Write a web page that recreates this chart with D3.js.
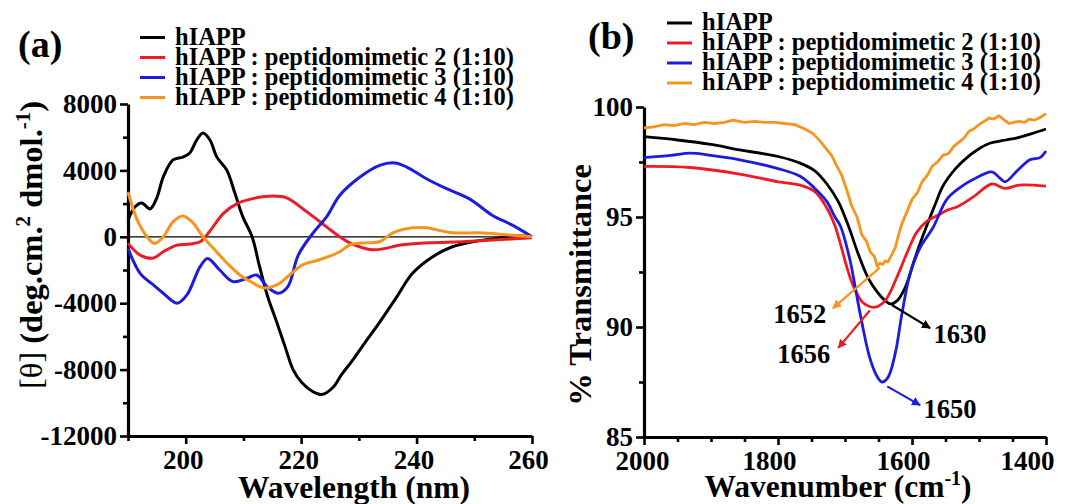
<!DOCTYPE html>
<html><head><meta charset="utf-8">
<script src="https://cdn.jsdelivr.net/npm/d3@7"></script>
<style>
body{margin:0;background:#fff}
text{font-family:"Liberation Serif","Times New Roman",serif;font-weight:bold;fill:#000}
</style></head><body>
<svg id="c" width="1065" height="504"></svg>
<script>
// ---------- DATA ----------
const seriesNames = ["hIAPP","hIAPP : peptidomimetic 2 (1:10)","hIAPP : peptidomimetic 3 (1:10)","hIAPP : peptidomimetic 4 (1:10)"];
const seriesColors = ["#000000","#ed1c24","#1c1ce0","#f7941d"];

// (a) CD spectra: wavelength (nm) vs [theta]
const cdBlackX = [190,191.2,192.4,193.8,195,196.1,197.8,199.5,200.7,201.9,203,204.2,205.4,207.1,208.5,209.9,211.5,212.8,214.2,215.8,217.2,218.6,220.1,222,223.6,225.5,227,229,231,233.1,236.6,239.3,242.8,246.2,249.7,254.3,257,260];
const cdBlackY = [1000,1800,2040,1680,2350,3600,4630,4800,5050,5830,6250,5830,4800,4030,2650,1200,0,-1800,-3600,-5170,-6600,-8000,-8780,-9320,-9500,-9080,-8300,-7400,-6400,-5400,-3600,-2200,-1200,-600,-300,-80,60,0];
const cdRedX = [190,192.1,194.4,196.1,198.5,200.7,202.5,204.2,206.5,208.9,211.6,215.1,217.5,221,224.4,226.7,228.4,232.4,237.6,242.2,247.9,253.8,260];
const cdRedY = [-380,-1100,-1280,-900,-500,-440,-300,350,1400,2000,2300,2460,2350,1500,600,0,-360,-780,-480,-360,-300,-180,-60];
const cdBlueX = [190,192.1,194.4,196.1,198.5,200.2,202.5,203.8,205.9,208.2,210.6,212.3,214.1,216,217.7,219.5,222,224.4,226.7,230.2,233.6,236.2,238.3,241.7,245.2,249.1,253.1,256.6,260];
const cdBlueY = [-700,-2200,-2900,-3400,-4000,-3500,-1800,-1300,-2000,-2700,-2500,-2300,-3000,-3400,-3000,-1100,200,1200,2500,3600,4300,4450,4200,3500,2900,2300,1300,700,0];
const cdOrangeX = [190,191.6,193.3,194.6,196.1,197.8,199.5,201.1,203,204.7,207.1,209.4,211.6,213.4,215.8,218,220.3,223.2,226.7,228.5,231.4,233.6,235.9,239.3,241.7,246.2,250.9,255.5,260];
const cdOrangeY = [2700,1020,0,-400,0,900,1260,900,0,-660,-1560,-2300,-2770,-3070,-2900,-2300,-1680,-1380,-900,-480,-360,-300,240,540,540,240,240,120,0];

// (b) FTIR spectra: wavenumber (cm-1) vs % transmittance
const irBlackX = [2000,1950,1900,1857,1800,1767,1745,1727,1710,1695,1680,1665,1652,1640,1632,1622,1610,1598,1588,1578,1565,1554,1535,1518,1500,1484,1460,1443,1420,1400];
const irBlackY = [98.65,98.5,98.3,98.05,97.75,97.45,97.1,96.5,95.7,94.6,93.3,92.2,91.6,91.2,91.05,91.2,91.8,92.9,93.8,94.6,95.6,96.4,97.2,97.7,98.1,98.35,98.5,98.6,98.8,99.0];
const irRedX = [2000,1931,1857,1800,1767,1745,1727,1715,1707,1698,1688,1673,1655,1640,1622,1607,1593,1578,1560,1548,1530,1509,1481,1461,1440,1400];
const irRedY = [97.3,97.25,96.95,96.6,96.45,96.15,95.4,94.6,93.8,92.8,91.9,91.1,90.9,91.2,92.3,93.4,94.3,94.8,95.1,95.3,95.5,95.9,96.5,96.3,96.45,96.4];
const irBlueX = [2000,1960,1931,1900,1857,1800,1767,1745,1727,1715,1707,1693,1678,1663,1652,1645,1636,1625,1615,1603,1588,1569,1548,1530,1509,1481,1470,1461,1443,1424,1409,1400];
const irBlueY = [97.7,97.8,97.9,97.8,97.6,97.2,96.85,96.3,95.7,95.0,94.6,93.1,90.7,88.6,87.75,87.5,87.7,88.8,90.6,92.4,93.6,94.5,95.8,96.3,96.7,97.05,96.8,96.6,97.1,97.6,97.7,98.0];
const irOrangeX = [2000,1985,1970,1955,1940,1925,1910,1895,1880,1867,1850,1835,1820,1805,1790,1775,1760,1748,1737,1728,1720,1712,1705,1697,1690,1682,1675,1668,1662,1656,1652,1648,1644,1640,1636,1630,1625,1620,1615,1608,1600,1592,1585,1577,1570,1562,1554,1545,1538,1530,1522,1515,1508,1500,1492,1485,1478,1470,1462,1455,1448,1440,1432,1425,1418,1410,1400];
const irOrangeY = [99.05,99.1,99.2,99.15,99.25,99.2,99.3,99.25,99.3,99.4,99.3,99.35,99.3,99.3,99.25,99.2,99.0,98.8,98.45,98.1,97.8,97.3,96.9,96.2,95.5,95.0,94.2,93.9,93.4,93.2,92.75,92.9,92.85,93.0,92.95,93.3,93.6,94.2,94.7,95.2,95.8,96.1,96.6,96.9,97.3,97.5,97.8,97.9,98.2,98.4,98.6,98.9,99.0,99.2,99.35,99.5,99.45,99.6,99.4,99.25,99.3,99.35,99.3,99.45,99.4,99.5,99.7];

// ticks
const cdXMajor = [200,220,240,260], cdXMinor = [190,210,230,250];
const cdYMajor = [8000,4000,0,-4000,-8000,-12000], cdYMinor = [6000,2000,-2000,-6000,-10000];
const irXMajor = [2000,1800,1600,1400], irXMinor = [1950,1900,1850,1750,1700,1650,1550,1500,1450];
const irYMajor = [100,95,90,85], irYMinor = [97.5,92.5,87.5];

// peak annotations (b)
const irPeakLabels = ["1652","1656","1630","1650"];
const irPeakSeries = [3,1,0,2];
const irArrowFrom = [[1648,92.7],[1663,90.75],[1630,91.0],[1637,87.3]];
const irArrowTo = [[1718,90.86],[1710,89.05],[1573,89.95],[1588,86.45]];
const irLabelAt = [[1807,90.18],[1801,88.36],[1568,89.27],[1583,85.86]];

// ---------- DRAW ----------
const svg = d3.select("#c");
svg.append("rect").attr("width",1065).attr("height",504).attr("fill","#fff");

const xA = d3.scaleLinear().domain([190,260]).range([128,532]);
const yA = d3.scaleLinear().domain([-12000,8000]).range([436,104]);
const xB = d3.scaleLinear().domain([2000,1400]).range([644,1046]);
const yB = d3.scaleLinear().domain([85,100]).range([437,107]);

function drawAxes(x, y, xMaj, xMin, yMaj, yMin, xShift){
  const gx = svg.append("g").attr("transform",`translate(0,${y.range()[0]})`);
  gx.call(d3.axisBottom(x).tickValues(xMin).tickSize(5).tickSizeOuter(0).tickFormat(""));
  gx.call(g=>g.select(".domain").remove());
  const gx2 = svg.append("g").attr("transform",`translate(0,${y.range()[0]})`);
  gx2.call(d3.axisBottom(x).tickValues(xMaj).tickSize(8).tickSizeOuter(0).tickPadding(6).tickFormat(d=>d));
  gx2.selectAll(".tick text").attr("dx",(d,i)=>xShift[i]);
  const gy = svg.append("g").attr("transform",`translate(${x.range()[0]},0)`);
  gy.call(d3.axisLeft(y).tickValues(yMin).tickSize(5).tickSizeOuter(0).tickFormat(""));
  gy.call(g=>g.select(".domain").remove());
  const gy2 = svg.append("g").attr("transform",`translate(${x.range()[0]},0)`);
  gy2.call(d3.axisLeft(y).tickValues(yMaj).tickSize(8).tickSizeOuter(0).tickPadding(3).tickFormat(d=>d));
}
drawAxes(xA,yA,cdXMajor,cdXMinor,cdYMajor,cdYMinor,[-3,-3,-3,-4]);
drawAxes(xB,yB,irXMajor,irXMinor,irYMajor,irYMinor,[-2,-9,-9,-19]);
svg.selectAll("g").attr("font-family",null).attr("font-size",null);
svg.selectAll(".domain").attr("stroke","#000").attr("stroke-width",3.2);
svg.selectAll(".tick line").attr("stroke","#000").attr("stroke-width",2.6);
svg.selectAll(".tick text").attr("font-size",27).attr("fill","#000");

// zero line (a)
svg.append("line").attr("x1",xA(190)).attr("x2",xA(260)).attr("y1",yA(0)).attr("y2",yA(0))
  .attr("stroke","#000").attr("stroke-width",1.3);

const lineA = d3.line().x(d=>xA(d[0])).y(d=>yA(d[1])).curve(d3.curveCatmullRom.alpha(0.5));
const lineB = d3.line().x(d=>xB(d[0])).y(d=>yB(d[1])).curve(d3.curveCatmullRom.alpha(0.5));
const lineBjag = d3.line().x(d=>xB(d[0])).y(d=>yB(d[1])).curve(d3.curveLinear);
const zip = (a,b)=>a.map((v,i)=>[v,b[i]]);

const cdSets = [[cdBlackX,cdBlackY],[cdRedX,cdRedY],[cdBlueX,cdBlueY],[cdOrangeX,cdOrangeY]];
cdSets.forEach((s,i)=>{
  svg.append("path").datum(zip(s[0],s[1])).attr("d",lineA).attr("fill","none")
    .attr("stroke",seriesColors[i]).attr("stroke-width",3).attr("stroke-linejoin","round");
});

const irSets = [[irBlackX,irBlackY],[irRedX,irRedY],[irBlueX,irBlueY],[irOrangeX,irOrangeY]];
irSets.forEach((s,i)=>{
  svg.append("path").datum(zip(s[0],s[1])).attr("d", i===3?lineBjag:lineB).attr("fill","none")
    .attr("stroke",seriesColors[i]).attr("stroke-width",2.8).attr("stroke-linejoin","round");
});

// arrows
const defs = svg.append("defs");
seriesColors.forEach((c,i)=>{
  defs.append("marker").attr("id","ah"+i).attr("viewBox","0 0 10 10").attr("refX",9).attr("refY",5)
    .attr("markerWidth",9).attr("markerHeight",9).attr("markerUnits","userSpaceOnUse").attr("orient","auto")
    .append("path").attr("d","M0,0L10,5L0,10z").attr("fill",c);
});
irPeakLabels.forEach((lab,k)=>{
  const si = irPeakSeries[k];
  svg.append("line").attr("x1",xB(irArrowFrom[k][0])).attr("y1",yB(irArrowFrom[k][1]))
    .attr("x2",xB(irArrowTo[k][0])).attr("y2",yB(irArrowTo[k][1]))
    .attr("stroke",seriesColors[si]).attr("stroke-width",2.2).attr("marker-end",`url(#ah${si})`);
  svg.append("text").attr("x",xB(irLabelAt[k][0])).attr("y",yB(irLabelAt[k][1]))
    .attr("font-size",26.5).text(lab);
});

// legends
function legend(x0, y0, tx){
  seriesNames.forEach((n,i)=>{
    const yy = y0 + i*20;
    svg.append("line").attr("x1",x0).attr("x2",x0+25).attr("y1",yy).attr("y2",yy)
      .attr("stroke",seriesColors[i]).attr("stroke-width",3);
    svg.append("text").attr("x",tx).attr("y",yy+7).attr("font-size",24.5).text(n);
  });
}
legend(140,37.5,175);
legend(667,23,702);

// panel labels
svg.append("text").attr("x",18).attr("y",57).attr("font-size",38).text("(a)");
svg.append("text").attr("x",588).attr("y",49).attr("font-size",38).text("(b)");

// axis titles
svg.append("text").attr("x",354).attr("y",498).attr("text-anchor","middle").attr("font-size",31.5).text("Wavelength (nm)");
const tb = svg.append("text").attr("x",838).attr("y",497).attr("text-anchor","middle").attr("font-size",31.5);
tb.append("tspan").text("Wavenumber (cm");
tb.append("tspan").attr("dy",-12).attr("font-size",20).text("-1");
tb.append("tspan").attr("dy",12).text(")");

const ta = svg.append("text").attr("transform","translate(42,245) rotate(-90)").attr("text-anchor","middle").attr("font-size",32.5);
ta.append("tspan").attr("font-weight","normal").text("[θ]");
ta.append("tspan").text(" (deg.cm.");
ta.append("tspan").attr("dy",-12).attr("font-size",21).text("2");
ta.append("tspan").attr("dy",12).text(" dmol.");
ta.append("tspan").attr("dy",-12).attr("font-size",21).text("-1");
ta.append("tspan").attr("dy",12).text(")");

svg.append("text").attr("transform","translate(591,285) rotate(-90)").attr("text-anchor","middle").attr("font-size",32.5).text("% Transmittance");
</script></body></html>
